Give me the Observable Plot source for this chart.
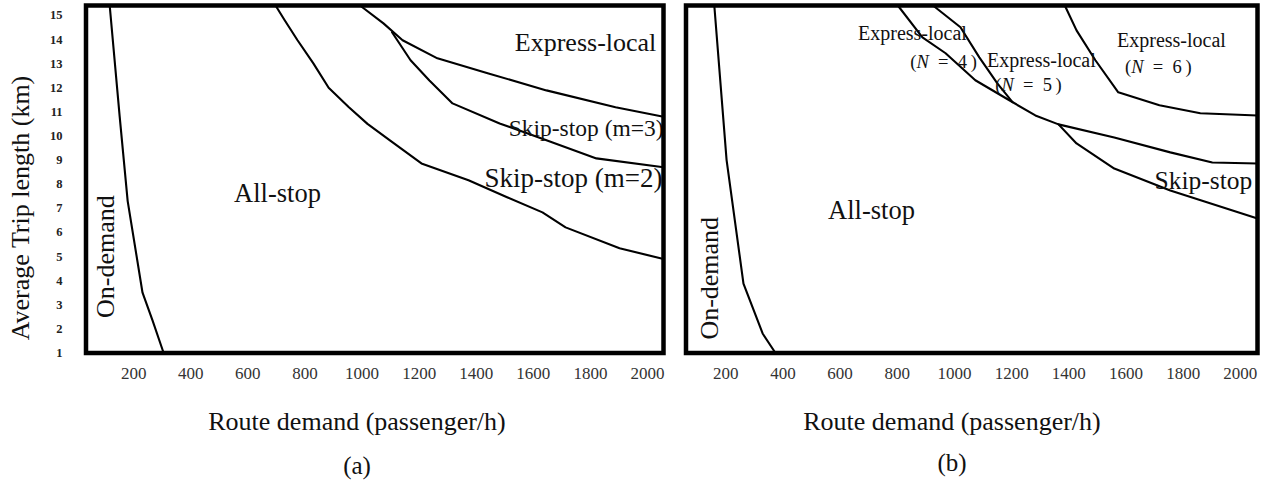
<!DOCTYPE html>
<html><head><meta charset="utf-8">
<script src="https://cdn.jsdelivr.net/npm/d3@7"></script>
<script src="https://cdn.jsdelivr.net/npm/@observablehq/plot@0.6"></script>
<style>
body{margin:0;background:#fff;}
#wrap{position:relative;width:1270px;height:486px;overflow:hidden;font-family:"Liberation Serif","Times New Roman",serif;color:#111;}
.abs{position:absolute;white-space:nowrap;transform:translate(-50%,-50%);line-height:1;}
.panel{position:absolute;top:0;}
</style></head><body>
<div id="wrap"></div>
<script>
// ---------- data ----------
const xTicks = [200, 400, 600, 800, 1000, 1200, 1400, 1600, 1800, 2000];
const yTicks = [1, 2, 3, 4, 5, 6, 7, 8, 9, 10, 11, 12, 13, 14, 15];
const xTitle = "Route demand (passenger/h)";
const yTitle = "Average Trip length (km)";
const panelTags = ["(a)", "(b)"];

// panel (a) boundaries: [demand, trip length]
const aOnDemand = [[116,15.41],[151,10.8],[179,7.3],[231,3.5],[266,2.35],[305,1]];
const aAllStop  = [[697,15.41],[729,14.8],[774,13.97],[830,13.0],[883,12.0],[953,11.2],[1019,10.5],[1100,9.8],[1208,8.86],[1373,8.16],[1510,7.45],[1632,6.83],[1713,6.21],[1902,5.34],[2056,4.9]];
const aSkip3    = [[1105,14.3],[1170,13.14],[1236,12.3],[1317,11.35],[1482,10.52],[1646,9.82],[1821,9.07],[2056,8.7]];
const aExpress  = [[993,15.41],[1075,14.67],[1142,13.97],[1264,13.22],[1440,12.6],[1646,11.89],[1888,11.19],[2056,10.8]];
const aLabels = [
  {text: "Express-local",   x: 1783, y: 13.88},
  {text: "Skip-stop (m=3)", x: 1785, y: 10.31},
  {text: "Skip-stop (m=2)", x: 1741, y: 8.24},
  {text: "All-stop",        x: 704,  y: 7.63},
  {text: "On-demand",       x: 102,  y: 5.0}
];

// panel (b) boundaries
const bOnDemand = [[160,15.41],[203,9.0],[262,3.88],[329,1.81],[374,1]];
const bLine1 = [[802,15.41],[888,14.09],[969,13.43],[1073,12.31],[1192,11.48],[1283,10.85],[1364,10.48],[1559,9.94],[1755,9.32],[1902,8.9],[2060,8.86]];
const bLine2 = [[925,15.41],[1021,14.51],[1087,13.26],[1150,12.18],[1203,11.4]];
const bLine3 = [[1386,15.41],[1427,14.38],[1493,13.14],[1573,11.81],[1717,11.27],[1860,10.94],[2060,10.85]];
const bLine4 = [[1364,10.48],[1427,9.69],[1559,8.65],[1755,7.74],[2060,6.58]];
const bLabels = [
  {text: "Express-local", x: 853,  y: 14.26},
  {text: "(N = 4)",       x: 962,  y: 13.05},
  {text: "Express-local", x: 1304, y: 13.14},
  {text: "(N = 5)",       x: 1259, y: 12.1},
  {text: "Express-local", x: 1759, y: 13.97},
  {text: "(N = 6)",       x: 1713, y: 12.85},
  {text: "Skip-stop",     x: 1871, y: 8.16},
  {text: "All-stop",      x: 710,  y: 6.91},
  {text: "On-demand",     x: 143,  y: 4.1}
];

// ---------- drawing ----------
const wrap = document.getElementById("wrap");
const FONT = "'Liberation Serif','Times New Roman',serif";
const line = (pts) => Plot.line(pts, {x: d => d[0], y: d => d[1], stroke: "#000", strokeWidth: 2.1, curve: "linear"});
const lbl = (d, size, extra = {}) => Plot.text([d], {x: "x", y: "y", text: "text", fontSize: size, fill: "#111", ...extra});
const fmt = d => String(d);

const plotA = Plot.plot({
  width: 670, height: 388,
  marginLeft: 85.5, marginRight: 7, marginTop: 5, marginBottom: 35.5,
  style: {fontFamily: FONT, background: "#fff", overflow: "visible"},
  x: {domain: [33, 2056], axis: null},
  y: {domain: [1, 15.41], axis: null},
  marks: [
    Plot.axisX(xTicks, {tickSize: 0, tickPadding: 14, fontSize: 17, color: "#333", tickFormat: fmt, label: null}),
    Plot.axisY(yTicks, {tickSize: 0, tickPadding: 23.5, fontSize: 12.5, fontWeight: "bold", color: "#222", tickFormat: fmt, label: null}),
    line(aOnDemand), line(aAllStop), line(aSkip3), line(aExpress),
    lbl(aLabels[0], 26),
    lbl(aLabels[1], 23.5),
    lbl(aLabels[2], 27),
    lbl(aLabels[3], 26.5),
    lbl(aLabels[4], 26, {rotate: -90}),
    Plot.frame({stroke: "#000", strokeWidth: 4.5})
  ]
});
plotA.classList.add("panel");
plotA.style.left = "0px";
wrap.appendChild(plotA);

const plotB = Plot.plot({
  width: 600, height: 388,
  marginLeft: 15.5, marginRight: 13, marginTop: 5, marginBottom: 35.5,
  style: {fontFamily: FONT, background: "transparent", overflow: "visible"},
  x: {domain: [61, 2060], axis: null},
  y: {domain: [1, 15.41], axis: null},
  marks: [
    Plot.axisX(xTicks, {tickSize: 0, tickPadding: 14, fontSize: 17, color: "#333", tickFormat: fmt, label: null}),
    line(bOnDemand), line(bLine1), line(bLine2), line(bLine3), line(bLine4),
    lbl(bLabels[0], 20), lbl(bLabels[1], 18.5),
    lbl(bLabels[2], 20), lbl(bLabels[3], 18.5),
    lbl(bLabels[4], 20), lbl(bLabels[5], 18.5),
    lbl(bLabels[6], 25.5), lbl(bLabels[7], 26.5),
    lbl(bLabels[8], 26, {rotate: -90}),
    Plot.frame({stroke: "#000", strokeWidth: 4.5})
  ]
});
plotB.classList.add("panel");
plotB.style.left = "670px";
wrap.appendChild(plotB);

// italic N in "(N = k)", with the wide math spacing of the original
plotB.querySelectorAll("text").forEach(t => {
  const m = /^\(N = (\d)\)$/.exec(t.textContent);
  if (m) t.innerHTML = `(<tspan font-style="italic">N</tspan>&#8194;=&#8194;${m[1]}&#8201;)`;
});

// titles and panel tags
function addText(txt, x, y, size, rot) {
  const d = document.createElement("div");
  d.className = "abs";
  d.textContent = txt;
  d.style.left = x + "px";
  d.style.top = y + "px";
  d.style.fontSize = size + "px";
  if (rot) d.style.transform = "translate(-50%,-50%) rotate(-90deg)";
  wrap.appendChild(d);
}
addText(xTitle, 357, 422, 26);
addText(xTitle, 952, 422, 26);
addText(panelTags[0], 357, 465, 25);
addText(panelTags[1], 952, 462, 25);
addText(yTitle, 21, 208, 26, true);
</script>
</body></html>
